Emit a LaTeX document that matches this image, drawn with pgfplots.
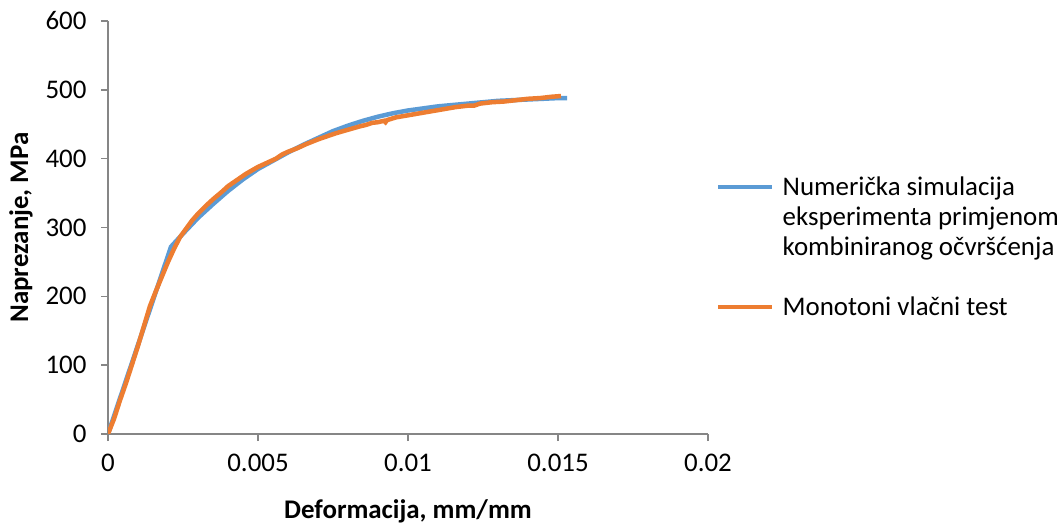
\documentclass[border=0pt]{standalone}
\usepackage{pgfplots}
\pgfplotsset{compat=1.18}
\usepackage{fontspec}
\setmainfont{Carlito}
\definecolor{xlblue}{HTML}{5B9BD5}
\definecolor{xlorange}{HTML}{ED7D31}
\definecolor{axgray}{HTML}{868686}
\pgfplotsset{
  upimg/.style={legend image code/.code={\draw[##1] (0bp,30bp) -- (54bp,30bp);}}
}
\begin{document}
\begin{tikzpicture}
\useasboundingbox (0bp,0bp) rectangle (1060bp,524bp);
\begin{axis}[
  at={(108bp,90bp)}, anchor=south west,
  scale only axis, width=600bp, height=413bp,
  xmin=0, xmax=0.02, ymin=0, ymax=600,
  scaled x ticks=false, scaled y ticks=false,
  axis lines=left,
  axis line style={-, draw=axgray, line width=1.8bp},
  tick align=outside, major tick length=7bp,
  tick style={draw=axgray, line width=1.5bp},
  xtick={0,0.005,0.01,0.015,0.02},
  xticklabels={0,0.005,0.01,0.015,0.02},
  ytick={0,100,200,300,400,500,600},
  yticklabels={0,100,200,300,400,500,600},
  ticklabel style={font=\fontsize{27}{32}\selectfont, text=black},
  xticklabel style={yshift=-10bp},
  yticklabel style={xshift=-11bp},
  xlabel={\textbf{Deformacija, mm/mm}},
  ylabel={\textbf{Naprezanje, MPa}},
  label style={font=\fontsize{27}{32}\selectfont},
  xlabel style={yshift=-21bp},
  ylabel style={yshift=6bp},
  legend style={draw=none, fill=none, at={(1.0133,0.628)}, anchor=north west,
    font=\fontsize{27}{30}\selectfont, inner sep=0pt, row sep=36bp,
    cells={anchor=west, align=left}, column sep=6bp},
  legend image code/.code={\draw[#1] (0bp,0bp) -- (54bp,0bp);},
]
\addplot[xlblue, line width=4.5bp, upimg] coordinates {
(0,0) (0.0021,272) (0.0025,291) (0.0030,314) (0.0035,334) (0.0040,353)
(0.0045,370) (0.0050,385) (0.0055,397) (0.0060,409) (0.0065,420)
(0.0070,430) (0.0075,440) (0.0080,448) (0.0085,455) (0.0090,461)
(0.0095,466) (0.0100,470) (0.0105,473) (0.0110,476) (0.0115,478)
(0.0120,480) (0.0125,482) (0.0130,484) (0.0135,485) (0.0140,486)
(0.0145,487) (0.0150,488) (0.0153,488)
};
\addlegendentry{Numerička simulacija\\eksperimenta primjenom\\kombiniranog očvršćenja}
\addplot[xlorange, line width=4.5bp] coordinates {
(0,0) (0.0002,22) (0.0004,49) (0.0006,74) (0.0008,101) (0.0010,128)
(0.0012,157) (0.0014,186) (0.0016,208) (0.0018,229) (0.0020,250)
(0.0022,269) (0.0024,286) (0.0026,298) (0.0028,310) (0.0030,320)
(0.0033,333) (0.0035,341) (0.0038,352) (0.0040,360) (0.0043,369)
(0.0046,378) (0.0050,388) (0.0054,396) (0.0056,400) (0.0058,406)
(0.0060,410) (0.0063,415) (0.0066,421) (0.0070,428) (0.0074,434)
(0.0076,437) (0.0080,442) (0.0084,447) (0.0086,449) (0.0088,452)
(0.0090,453) (0.0092,455) (0.00925,453) (0.0093,456) (0.0096,460)
(0.0100,463) (0.0104,466) (0.0108,469) (0.0112,472) (0.0116,475)
(0.0120,477) (0.0122,477) (0.0124,480) (0.0128,482) (0.0132,483)
(0.0136,485) (0.0140,487) (0.0144,488) (0.0148,490) (0.0151,491)
};
\addlegendentry{Monotoni vlačni test}
\end{axis}
\end{tikzpicture}
\end{document}
